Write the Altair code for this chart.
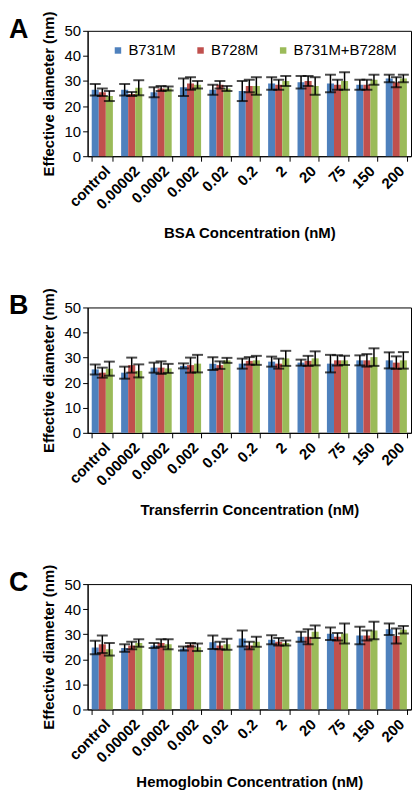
import altair as alt
import pandas as pd

concentrations = ["control", "0.00002", "0.0002", "0.002", "0.02", "0.2", "2", "20", "75", "150", "200"]
series = ["B731M", "B728M", "B731M+B728M"]
colors = ["#4F81BD", "#C0504D", "#9BBB59"]

# Panel A: BSA
bsa_b731m = [26.5, 26.5, 25.5, 27.5, 26.5, 26.0, 29.0, 29.5, 29.0, 28.5, 31.0]
bsa_b731m_err = [2.3, 2.3, 2.0, 3.5, 2.0, 4.0, 2.5, 2.5, 3.5, 2.0, 1.5]
bsa_b728m = [25.5, 24.8, 27.0, 29.0, 28.5, 28.0, 28.5, 30.0, 28.5, 28.5, 29.5]
bsa_b728m_err = [1.5, 0.8, 1.0, 2.5, 1.5, 2.5, 2.0, 2.0, 2.0, 2.0, 2.0]
bsa_mix = [24.0, 27.3, 27.0, 28.5, 27.0, 28.0, 30.0, 28.0, 30.0, 30.5, 31.0]
bsa_mix_err = [2.0, 3.0, 0.8, 1.5, 1.0, 3.5, 2.0, 3.5, 3.5, 2.0, 1.5]

# Panel B: Transferrin
tf_b731m = [25.3, 24.0, 26.0, 26.7, 27.6, 27.6, 28.4, 28.0, 27.6, 28.9, 28.9]
tf_b731m_err = [2.0, 2.4, 2.0, 1.0, 2.5, 2.0, 2.0, 1.2, 3.5, 2.0, 3.2]
tf_b728m = [24.0, 27.0, 26.0, 27.0, 27.0, 28.7, 27.6, 28.7, 28.9, 28.9, 28.0]
tf_b728m_err = [2.0, 3.0, 2.5, 3.0, 1.5, 1.5, 2.0, 2.0, 2.0, 2.5, 2.5]
tf_mix = [25.6, 24.7, 25.7, 27.6, 28.9, 28.9, 29.7, 29.7, 28.9, 30.2, 28.9]
tf_mix_err = [2.8, 2.6, 1.8, 3.5, 1.0, 1.8, 3.0, 2.8, 1.8, 3.5, 3.3]

# Panel C: Hemoglobin
hb_b731m = [24.7, 24.5, 25.5, 24.3, 26.8, 28.3, 27.8, 29.0, 30.2, 29.5, 32.0]
hb_b731m_err = [2.7, 1.5, 1.0, 0.8, 2.7, 3.2, 1.8, 2.0, 2.5, 3.5, 2.3]
hb_b728m = [26.0, 25.5, 26.5, 25.8, 25.5, 25.5, 27.0, 29.0, 29.0, 29.5, 29.3]
hb_b728m_err = [3.5, 1.5, 1.5, 0.7, 1.5, 1.5, 1.5, 3.0, 1.5, 2.0, 3.0]
hb_mix = [24.0, 26.5, 26.0, 24.8, 26.0, 27.0, 26.5, 31.0, 30.3, 31.5, 31.8]
hb_mix_err = [2.5, 1.5, 2.0, 1.5, 2.2, 2.0, 1.0, 2.5, 4.0, 3.5, 1.5]

y_ticks = [0, 10, 20, 30, 40, 50]

FONT = "Liberation Sans"
W, H = 325, 126


def panel(letter, protein, means, errs, title_pad):
    rows = []
    for s, m, e in zip(series, means, errs):
        for c, v, d in zip(concentrations, m, e):
            rows.append({"conc": c, "series": s, "mean": v, "lo": v - d, "hi": v + d})
    df = pd.DataFrame(rows)

    x_axis = alt.Axis(
        title=f"{protein} Concentration (nM)",
        labelAngle=315,
        labelAlign="right",
        labelBaseline="top",
        labelFontWeight="bold",
        labelFontSize=15,
        labelPadding=2,
        tickBand="extent",
        titlePadding=title_pad,
    )
    x = alt.X("conc:N", sort=concentrations,
              scale=alt.Scale(paddingInner=0.28, paddingOuter=0.14), axis=x_axis)
    xo = alt.XOffset("series:N", sort=series, scale=alt.Scale(domain=series, paddingInner=0))
    y_scale = alt.Scale(domain=[0, 50], nice=False)
    y_axis = alt.Axis(
        title="Effective diameter (nm)",
        values=y_ticks,
        tickCount=6,
        labelFlush=False,
        labelOverlap=False,
        titlePadding=8,
    )

    base = alt.Chart(df)
    bars = base.mark_bar().encode(
        x=x,
        xOffset=xo,
        y=alt.Y("mean:Q", scale=y_scale, axis=y_axis),
        color=alt.Color(
            "series:N",
            sort=series,
            scale=alt.Scale(domain=series, range=colors),
            legend=alt.Legend(
                title=None,
                orient="none",
                direction="horizontal",
                legendX=23,
                legendY=12,
                symbolType="square",
                symbolSize=42,
                symbolStrokeWidth=0,
                labelFontSize=15,
                labelFont=FONT,
                labelColor="black",
                labelOffset=3,
                columnPadding=17,
                labelLimit=200,
            ),
        ),
    )
    rules = base.mark_rule(color="black", strokeWidth=1.5).encode(
        x=x, xOffset=xo, y=alt.Y("lo:Q", scale=y_scale, axis=y_axis), y2="hi:Q"
    )
    caps_hi = base.mark_tick(color="black", thickness=2, size=11).encode(
        x=x, xOffset=xo, y=alt.Y("hi:Q", scale=y_scale, axis=y_axis)
    )
    caps_lo = base.mark_tick(color="black", thickness=2, size=11).encode(
        x=x, xOffset=xo, y=alt.Y("lo:Q", scale=y_scale, axis=y_axis)
    )
    lab = alt.Chart(pd.DataFrame({"t": [letter]})).mark_text(
        font=FONT, fontSize=27, fontWeight="bold", align="left", baseline="top", color="black"
    ).encode(text="t:N", x=alt.value(-79), y=alt.value(-14))

    return alt.layer(bars, rules, caps_hi, caps_lo, lab).properties(width=W, height=H)


chart = alt.vconcat(
    panel("A", "BSA", [bsa_b731m, bsa_b728m, bsa_mix], [bsa_b731m_err, bsa_b728m_err, bsa_mix_err], 14),
    panel("B", "Transferrin", [tf_b731m, tf_b728m, tf_mix], [tf_b731m_err, tf_b728m_err, tf_mix_err], 14),
    panel("C", "Hemoglobin", [hb_b731m, hb_b728m, hb_mix], [hb_b731m_err, hb_b728m_err, hb_mix_err], 9),
    spacing=45,
).configure(
    padding=0, background="white"
).configure_view(
    stroke="black", strokeWidth=1
).configure_axis(
    labelFont=FONT,
    titleFont=FONT,
    labelFontSize=15,
    titleFontSize=15,
    titleFontWeight="bold",
    labelColor="black",
    titleColor="black",
    domainColor="black",
    tickColor="black",
    tickSize=5,
    grid=False,
)

chart.save("out.html", embed_options={"renderer": "svg", "actions": False})
